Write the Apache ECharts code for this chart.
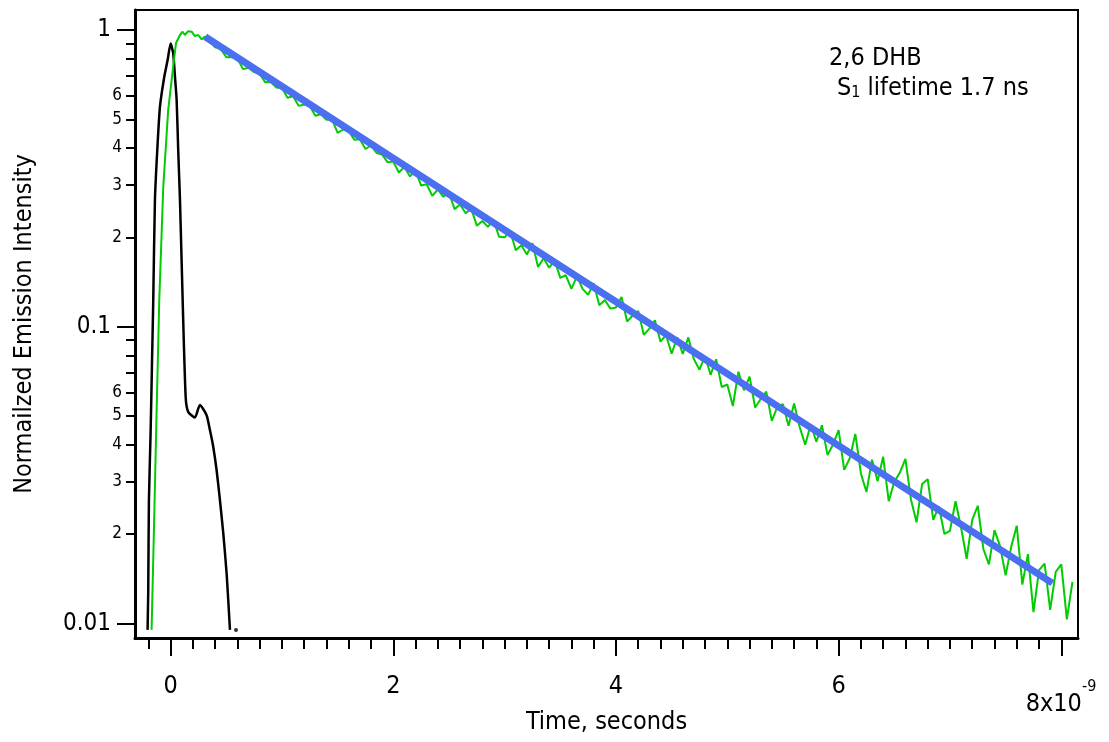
<!DOCTYPE html>
<html>
<head>
<meta charset="utf-8">
<title>2,6 DHB emission decay</title>
<script src="https://cdn.jsdelivr.net/npm/echarts@6/dist/echarts.min.js"></script>
<style>
html, body { margin: 0; padding: 0; background: #fff; }
#chart { width: 1109px; height: 742px; }
</style>
</head>
<body>
<div id="chart"></div>
<script>
// time in ns (last x label reads 8x10^-9 s)
// instrument response (black)
var irfTime = [-0.207, -0.201, -0.195, -0.18, -0.168, -0.156, -0.141, -0.12, -0.096, -0.057, -0.027, 0.0,
	0.023, 0.039, 0.054, 0.068, 0.084, 0.108, 0.135, 0.158, 0.218, 0.263, 0.323, 0.353, 0.383, 0.413,
	0.443, 0.473, 0.503, 0.533];
var irfValue = [0.0095, 0.0129, 0.026, 0.0437, 0.0732, 0.123, 0.267, 0.394, 0.551, 0.696, 0.792, 0.9,
	0.834, 0.696, 0.581, 0.394, 0.267, 0.123, 0.058, 0.0516, 0.0494, 0.0544, 0.0503, 0.0448, 0.0393, 0.0328,
	0.026, 0.0201, 0.0147, 0.0095];
var irfTailTime = [0.587];
var irfTailValue = [0.0095];

// emission decay (green)
var decayTime = [-0.171, -0.15, -0.128, -0.102, -0.066, -0.022, 0.023, 0.048, 0.084, 0.108, 0.128, 0.155, 0.189, 0.218, 0.248, 0.279, 0.308,
	0.35, 0.4, 0.45, 0.5, 0.55, 0.6, 0.65, 0.7, 0.75, 0.8, 0.85, 0.9, 0.95,
	1, 1.05, 1.1, 1.15, 1.2, 1.25, 1.3, 1.35, 1.4, 1.45, 1.5, 1.55, 1.6, 1.65, 1.7, 1.75, 1.8, 1.85, 1.9, 1.95,
	2, 2.05, 2.1, 2.15, 2.2, 2.25, 2.3, 2.35, 2.4, 2.45, 2.5, 2.55, 2.6, 2.65, 2.7, 2.75, 2.8, 2.85, 2.9, 2.95,
	3, 3.05, 3.1, 3.15, 3.2, 3.25, 3.3, 3.35, 3.4, 3.45, 3.5, 3.55, 3.6, 3.65, 3.7, 3.75, 3.8, 3.85, 3.9, 3.95,
	4, 4.05, 4.1, 4.15, 4.2, 4.25, 4.3, 4.35, 4.4, 4.45, 4.5, 4.55, 4.6, 4.65, 4.7, 4.75, 4.8, 4.85, 4.9, 4.95,
	5, 5.05, 5.1, 5.15, 5.2, 5.25, 5.3, 5.35, 5.4, 5.45, 5.5, 5.55, 5.6, 5.65, 5.7, 5.75, 5.8, 5.85, 5.9, 5.95,
	6, 6.05, 6.1, 6.15, 6.2, 6.25, 6.3, 6.35, 6.4, 6.45, 6.5, 6.55, 6.6, 6.65, 6.7, 6.75, 6.8, 6.85, 6.9, 6.95,
	7, 7.05, 7.1, 7.15, 7.2, 7.25, 7.3, 7.35, 7.4, 7.45, 7.5, 7.55, 7.6, 7.65, 7.7, 7.75, 7.8, 7.85, 7.9, 7.95,
	8, 8.05, 8.1];
var decayValue = [0.0095, 0.0206, 0.0478, 0.123, 0.296, 0.537, 0.752, 0.902, 0.962, 0.987, 0.962, 0.99, 0.987, 0.954, 0.962, 0.93, 0.95,
	0.914, 0.875, 0.864, 0.809, 0.811, 0.802, 0.738, 0.746, 0.721, 0.712, 0.666, 0.668, 0.640,
	0.637, 0.591, 0.598, 0.555, 0.561, 0.554, 0.514, 0.520, 0.498, 0.500, 0.450, 0.462, 0.456, 0.427, 0.428, 0.397, 0.408, 0.385, 0.380, 0.358,
	0.360, 0.331, 0.3455, 0.321, 0.335, 0.299, 0.302, 0.276, 0.290, 0.274, 0.283, 0.249, 0.258, 0.241, 0.250, 0.219, 0.227, 0.217, 0.229, 0.201,
	0.200, 0.210, 0.181, 0.188, 0.175, 0.191, 0.159, 0.170, 0.158, 0.167, 0.146, 0.149, 0.134, 0.148, 0.134, 0.128, 0.140, 0.118, 0.123, 0.115,
	0.116, 0.126, 0.104, 0.109, 0.113, 0.0938, 0.0985, 0.105, 0.0890, 0.0936, 0.0810, 0.0921, 0.0809, 0.0920, 0.0777, 0.0716, 0.0795, 0.0688, 0.0776, 0.0626,
	0.0638, 0.0540, 0.0705, 0.0610, 0.0678, 0.0534, 0.0570, 0.0604, 0.0481, 0.0537, 0.0548, 0.0463, 0.0551, 0.0459, 0.0400, 0.0469, 0.0409, 0.0465, 0.0369, 0.0401,
	0.0448, 0.0329, 0.0360, 0.0435, 0.0320, 0.0277, 0.0356, 0.0301, 0.0364, 0.0258, 0.0300, 0.0322, 0.0358, 0.0261, 0.0219, 0.0295, 0.0306, 0.0223, 0.0248, 0.0200,
	0.0205, 0.0258, 0.0210, 0.0165, 0.0223, 0.0249, 0.0178, 0.0158, 0.0206, 0.0182, 0.0145, 0.0181, 0.0213, 0.0135, 0.0171, 0.0109, 0.0151, 0.0159, 0.0111, 0.0149,
	0.0158, 0.0103, 0.0138];

// single exponential fit (blue)
var fitTime = [0.31, 2, 4, 6, 7.92];
var fitValue = [0.949, 0.3695, 0.1213, 0.0397, 0.01366];

// axis ticks
var xMajorTicks = [0, 2, 4, 6, 8];
var xMinorTicks = [-0.2, 0.2, 0.4, 0.6, 0.8, 1, 1.2, 1.4, 1.6, 1.8, 2.2, 2.4, 2.6, 2.8, 3, 3.2, 3.4, 3.6, 3.8,
	4.2, 4.4, 4.6, 4.8, 5, 5.2, 5.4, 5.6, 5.8, 6.2, 6.4, 6.6, 6.8, 7, 7.2, 7.4, 7.6, 7.8];
var yMajorTicks = [0.01, 0.1, 1];
var yMinorTicks = [0.02, 0.03, 0.04, 0.05, 0.06, 0.07, 0.08, 0.09, 0.2, 0.3, 0.4, 0.5, 0.6, 0.7, 0.8, 0.9];
var yMinorLabels = [0.02, 0.03, 0.04, 0.05, 0.06, 0.2, 0.3, 0.4, 0.5, 0.6];

var FONT = "'DejaVu Sans Condensed', 'DejaVu Sans', sans-serif";
var xMin = -0.32, xMax = 8.15;
var yMin = 0.00892, yMax = 1.168;

function pairs(xs, ys) {
	var out = [];
	for (var i = 0; i < xs.length; i++) {
		out.push([xs[i], ys[i]]);
	}
	return out;
}

// 0.03 -> "3"
function leadDigit(v) {
	var e = Math.floor(Math.log10(v) + 1e-9);
	return String(Math.round(v / Math.pow(10, e)));
}

var option = {
	animation: false,
	backgroundColor: '#fff',
	textStyle: { fontFamily: FONT, color: '#000' },
	grid: {
		left: 135, right: 31, top: 10, bottom: 104,
		outerBoundsMode: 'none',
		show: true, borderColor: '#000', borderWidth: 2
	},
	xAxis: [{
		type: 'value', min: xMin, max: xMax, position: 'bottom',
		name: 'Time, seconds', nameLocation: 'middle', nameGap: 72, nameMoveOverlap: false,
		nameTextStyle: { fontSize: 25, color: '#000', fontFamily: FONT },
		axisLine: { onZero: false, lineStyle: { color: '#000', width: 3 } },
		axisTick: { customValues: xMajorTicks, length: 18, lineStyle: { color: '#000', width: 2 } },
		axisLabel: {
			customValues: xMajorTicks, margin: 36, fontSize: 25, color: '#000', fontFamily: FONT,
			formatter: function(v) {
				// exponent goes on the last label, like the original
				if (v === 8) return '{gap| }{s|-9}\n{b|8x10}{gap2| }';
				return String(v);
			},
			rich: {
				b: { fontSize: 25, lineHeight: 10, fontFamily: FONT, color: '#000' },
				gap2: { fontSize: 25, lineHeight: 10, width: 15, fontFamily: FONT },
				s: { fontSize: 16, lineHeight: 25, fontFamily: FONT, color: '#000' },
				gap: { fontSize: 16, lineHeight: 25, width: 56, fontFamily: FONT }
			}
		},
		splitLine: { show: false }
	}, {
		// minor ticks only
		type: 'value', min: xMin, max: xMax, position: 'bottom',
		axisLine: { show: false, onZero: false },
		axisTick: { customValues: xMinorTicks, length: 11, lineStyle: { color: '#000', width: 2 } },
		axisLabel: { show: false },
		splitLine: { show: false }
	}],
	yAxis: [{
		type: 'log', min: yMin, max: yMax, position: 'left',
		name: 'Normailzed Emission Intensity', nameLocation: 'middle', nameGap: 98, nameRotate: 90,
		nameMoveOverlap: false,
		nameTextStyle: { fontSize: 25, color: '#000', fontFamily: FONT },
		axisLine: { onZero: false, lineStyle: { color: '#000', width: 3 } },
		axisTick: { customValues: yMajorTicks, length: 18, lineStyle: { color: '#000', width: 2 } },
		axisLabel: {
			customValues: yMajorTicks, margin: 24, fontSize: 24, color: '#000', fontFamily: FONT,
			formatter: function(v) { return String(v); }
		},
		splitLine: { show: false }
	}, {
		type: 'log', min: yMin, max: yMax, position: 'left',
		axisLine: { show: false, onZero: false },
		axisTick: { customValues: yMinorTicks, length: 9, lineStyle: { color: '#000', width: 2 } },
		axisLabel: {
			customValues: yMinorLabels, margin: 13, fontSize: 17, color: '#000', fontFamily: FONT,
			formatter: leadDigit
		},
		splitLine: { show: false }
	}],
	graphic: [{
		type: 'text', left: 829, top: 46,
		style: { text: '2,6 DHB', fontSize: 25, fontFamily: FONT, fill: '#000' }
	}, {
		type: 'text', left: 837, top: 76,
		style: {
			text: '{a|S}{b|1}{a| lifetime 1.7 ns}',
			fill: '#000',
			rich: {
				a: { fontSize: 25, lineHeight: 30, verticalAlign: 'bottom', fontFamily: FONT, fill: '#000' },
				b: { fontSize: 16, lineHeight: 15, verticalAlign: 'bottom', fontFamily: FONT, fill: '#000' }
			}
		}
	}],
	series: [{
		name: 'IRF', type: 'line', xAxisIndex: 0, yAxisIndex: 0,
		data: pairs(irfTime, irfValue), showSymbol: false, smooth: 0.2,
		lineStyle: { color: '#000', width: 2.5 }, itemStyle: { color: '#000' }, z: 2
	}, {
		name: 'IRF tail', type: 'scatter', xAxisIndex: 0, yAxisIndex: 0,
		data: pairs(irfTailTime, irfTailValue), symbolSize: 4,
		itemStyle: { color: '#000' }, z: 2
	}, {
		name: 'Emission', type: 'line', xAxisIndex: 0, yAxisIndex: 0,
		data: pairs(decayTime, decayValue), showSymbol: false,
		lineStyle: { color: '#00cc00', width: 2 }, itemStyle: { color: '#00cc00' }, z: 3
	}, {
		name: 'Fit', type: 'line', xAxisIndex: 0, yAxisIndex: 0,
		data: pairs(fitTime, fitValue), showSymbol: false,
		lineStyle: { color: '#4a6ff0', width: 7 }, itemStyle: { color: '#4a6ff0' }, z: 4
	}]
};

var myChart = echarts.init(document.getElementById('chart'));
myChart.setOption(option);
</script>
</body>
</html>
